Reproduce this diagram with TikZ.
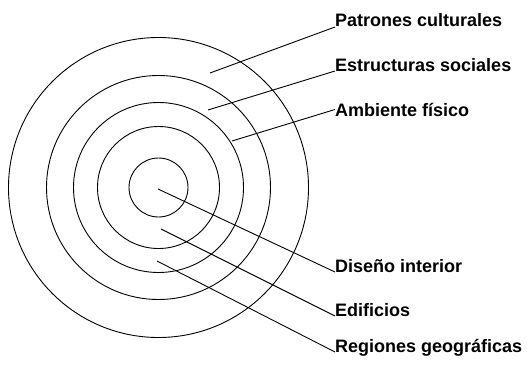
\documentclass[tikz,border=0pt]{standalone}
\usepackage{fontspec}
\setmainfont{Liberation Sans}
\begin{document}
\begin{tikzpicture}[
    x=1pt, y=-1pt,
    ring/.style={draw, line width=0.9pt},
    leader/.style={draw, line width=0.9pt},
    lbl/.style={anchor=base west, inner sep=0pt, font=\fontsize{18}{20}\selectfont\bfseries},
]
    \useasboundingbox (0,0) rectangle (527,364);
    \coordinate (c) at (158.5,187.5);
    % rings
    \foreach \r in {29.5,61,85,112,150} {
        \draw[ring] (c) circle (\r pt);
    }
    % labels
    \node[lbl] (pc) at (335,27) {Patrones culturales};
    \node[lbl] (es) at (335,71) {Estructuras sociales};
    \node[lbl] (af) at (335,116) {Ambiente físico};
    \node[lbl] (di) at (335,272) {Diseño interior};
    \node[lbl] (ed) at (335,316) {Edificios};
    \node[lbl] (rg) at (335,352) {Regiones geográficas};
    % leader lines
    \coordinate (pc0) at (210,73);
    \coordinate (es0) at (208,110);
    \coordinate (af0) at (232,141);
    \coordinate (di0) at (158,189);
    \coordinate (ed0) at (161,229);
    \coordinate (rg0) at (157,261);
    \draw[leader] (pc0) -- (pc.base west);
    \draw[leader] (es0) -- (es.base west);
    \draw[leader] (af0) -- (af.west);
    \draw[leader] (di0) -- (di.base west);
    \draw[leader] (ed0) -- (ed.base west);
    \draw[leader] (rg0) -- (rg.base west);
\end{tikzpicture}
\end{document}
